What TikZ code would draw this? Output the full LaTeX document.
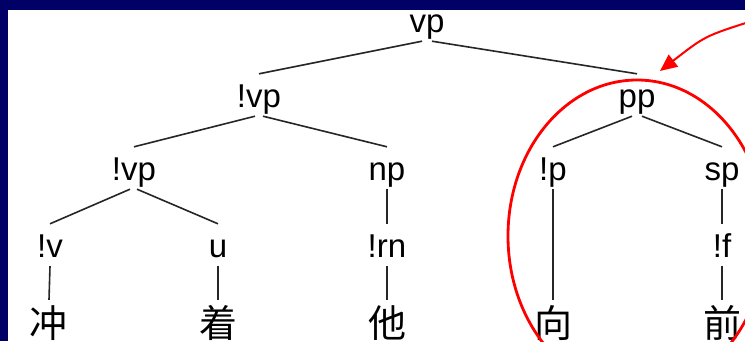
\documentclass[tikz,border=0pt]{standalone}
\usepackage{fontspec}
\setmainfont{Liberation Sans}
\newfontfamily\cjk{Noto Sans CJK SC}
\usetikzlibrary{arrows.meta}
\definecolor{navy}{RGB}{0,0,102}
\definecolor{markred}{RGB}{255,0,0}
\begin{document}
\begin{tikzpicture}[x=1pt,y=-1pt,
  lab/.style={anchor=base, inner sep=0pt, text height=33pt, text depth=9pt, font=\fontsize{33}{36}\selectfont},
  han/.style={anchor=base, inner sep=0pt, text height=37pt, text depth=2pt, font=\cjk\fontsize{38}{40}\selectfont},
  edge/.style={line width=1.6pt, black!85},
  ring/.style={draw=markred, line width=2.8pt},
  pointer/.style={markred, line width=2pt, -{Triangle[length=17pt,width=15pt]}}]
\useasboundingbox (0,0) rectangle (745,341);
\clip (0,0) rectangle (745,341);
\fill[navy] (0,0) rectangle (745,341);
\fill[white] (8,10) rectangle (760,350);

% level 0
\node[lab] (vp) at (427,32) {vp};
% level 1
\node[lab] (vpa) at (259,107) {!vp};
\node[lab] (pp) at (637,107) {pp};
% level 2
\node[lab] (vpb) at (134,180) {!vp};
\node[lab] (np) at (387,180) {np};
\node[lab] (p) at (553,180) {!p};
\node[lab] (sp) at (722,180) {sp};
% level 3
\node[lab] (v) at (50,257) {!v};
\node[lab] (u) at (218,257) {u};
\node[lab] (rn) at (387,257) {!rn};
\node[lab] (f) at (722,257) {!f};
% words
\node[han] (w1) at (49,337) {冲};
\node[han] (w2) at (218,337) {着};
\node[han] (w3) at (387,337) {他};
\node[han] (w4) at (553,337) {向};
\node[han] (w5) at (722,337) {前};

% edges
\draw[edge] ([xshift=-5pt]vp.south) -- (vpa.north);
\draw[edge] ([xshift=5pt]vp.south) -- (pp.north);
\draw[edge] ([xshift=-4pt]vpa.south) -- (vpb.north);
\draw[edge] ([xshift=4pt]vpa.south) -- (np.north);
\draw[edge] ([xshift=-5pt]pp.south) -- (p.north);
\draw[edge] ([xshift=5pt]pp.south) -- (sp.north);
\draw[edge] ([xshift=-4pt]vpb.south) -- (v.north);
\draw[edge] ([xshift=3pt]vpb.south) -- (u.north);
\draw[edge] (np.south) -- (rn.north);
\draw[edge] (sp.south) -- (f.north);
\draw[edge] (v.south) -- (w1.north);
\draw[edge] (u.south) -- (w2.north);
\draw[edge] (rn.south) -- (w3.north);
\draw[edge] (p.south) -- (w4.north);
\draw[edge] (f.south) -- (w5.north);

% red highlight
\draw[ring] (637,236) ellipse [x radius=129pt, y radius=156pt];
\coordinate (tail) at (752,21);
\coordinate (tip) at (660,71);
\draw[pointer] (tail) .. controls (705,36) .. (tip);
\end{tikzpicture}
\end{document}
